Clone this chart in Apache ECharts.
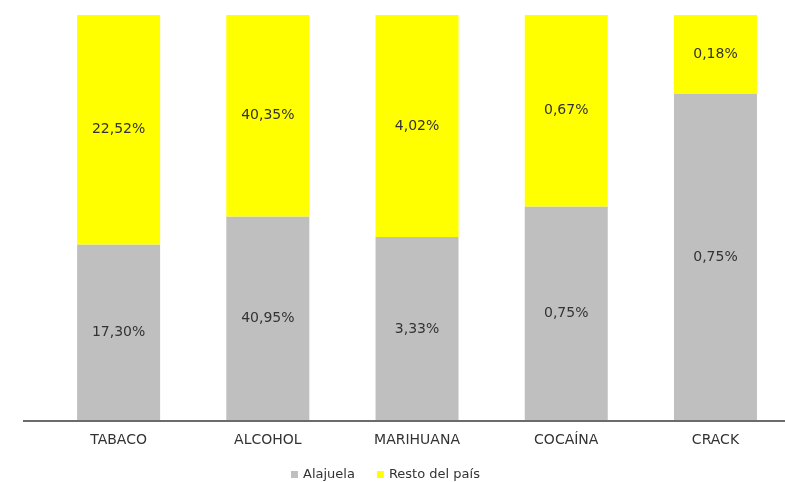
<!DOCTYPE html>
<html>
<head>
<meta charset="utf-8">
<script src="https://cdn.jsdelivr.net/npm/echarts@6/dist/echarts.min.js"></script>
<style>
  html, body { margin: 0; padding: 0; background: #ffffff; }
  #chart { width: 785px; height: 482px; }
</style>
</head>
<body>
<div id="chart"></div>
<script>
// Drug categories and prevalence (%) for Alajuela vs. the rest of the country
const categories = ['TABACO', 'ALCOHOL', 'MARIHUANA', 'COCAÍNA', 'CRACK'];
const alajuela = [17.30, 40.95, 3.33, 0.75, 0.75];
const restoPais = [22.52, 40.35, 4.02, 0.67, 0.18];
const seriesNames = ['Alajuela', 'Resto del país'];

// Each column is shown as a 100% stack: share of each group in the column total.
// The share comes first in each item so it is the dimension that gets stacked.
const totals = categories.map((_, i) => alajuela[i] + restoPais[i]);
const share = (arr) => arr.map((v, i) => ({ value: [v / totals[i] * 100, i], raw: v }));
const positions = categories.map((_, i) => i);

const fmt = (v) => v.toFixed(2).replace('.', ',') + '%';
const fontFam = '"DejaVu Sans", "Noto Sans", sans-serif';

const labelCfg = {
  show: true,
  position: 'inside',
  color: '#333333',
  fontFamily: fontFam,
  fontSize: 14,
  formatter: (p) => fmt(p.data.raw)
};

const chart = echarts.init(document.getElementById('chart'));
chart.setOption({
  animation: false,
  backgroundColor: '#ffffff',
  grid: { left: 44, right: 0, top: 15, bottom: 61, containLabel: false },
  legend: {
    data: seriesNames,
    top: 463,
    left: 286,
    itemWidth: 7,
    itemHeight: 7,
    itemGap: 22,
    icon: 'rect',
    textStyle: { color: '#333333', fontFamily: fontFam, fontSize: 13 }
  },
  xAxis: {
    type: 'value',
    min: -0.5,
    max: 4.466,
    splitLine: { show: false },
    axisLine: { show: false },
    axisTick: { show: false },
    axisLabel: {
      customValues: positions,
      formatter: (v) => categories[Math.round(v)],
      color: '#333333', fontFamily: fontFam, fontSize: 14, margin: 12
    }
  },
  yAxis: {
    type: 'value',
    min: 0,
    max: 100,
    show: false,
    splitLine: { show: false }
  },
  graphic: [{
    type: 'line',
    shape: { x1: 23, y1: 421, x2: 785, y2: 421 },
    style: { stroke: '#6b6b6b', lineWidth: 2 },
    z: 10
  }],
  series: [
    {
      name: seriesNames[0],
      type: 'bar',
      stack: 'total',
      barWidth: 83,
      encode: { x: 1, y: 0 },
      itemStyle: { color: '#bfbfbf' },
      label: labelCfg,
      data: share(alajuela)
    },
    {
      name: seriesNames[1],
      type: 'bar',
      stack: 'total',
      barWidth: 83,
      encode: { x: 1, y: 0 },
      itemStyle: { color: '#ffff00' },
      label: labelCfg,
      data: share(restoPais)
    }
  ]
});
</script>
</body>
</html>
